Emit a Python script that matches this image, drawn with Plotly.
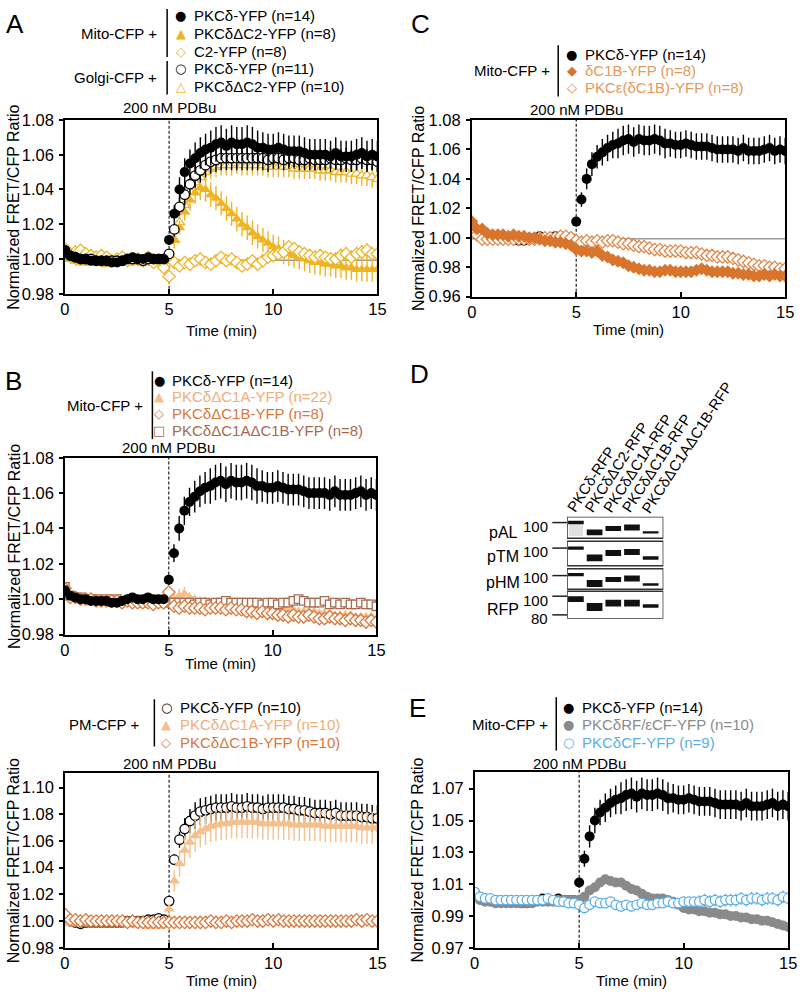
import math
import plotly.graph_objects as go

W, H = 805, 998
FONT = "Liberation Sans, Arial, sans-serif"
SYM = "DejaVu Sans, sans-serif"

# ---------------- data ----------------
t = [0, 0.25, 0.5, 0.75, 1, 1.25, 1.5, 1.75, 2, 2.25, 2.5, 2.75, 3, 3.25, 3.5, 3.75,
     4, 4.25, 4.5, 4.75, 5, 5.25, 5.5, 5.75, 6, 6.25, 6.5, 6.75, 7, 7.25, 7.5, 7.75,
     8, 8.25, 8.5, 8.75, 9, 9.25, 9.5, 9.75, 10, 10.25, 10.5, 10.75, 11, 11.25, 11.5,
     11.75, 12, 12.25, 12.5, 12.75, 13, 13.25, 13.5, 13.75, 14, 14.25, 14.5, 14.75, 15]

# Mito-CFP + PKCdelta-YFP (n=14)  (shared by A, B, C, E)
mito_pkcd = [1.005, 1.002, 1.001, 1.000, 1.000, 0.999, 0.999, 0.999, 0.999, 0.998,
             0.998, 0.999, 1.000, 1.001, 1.000, 1.000, 1.001, 1.000, 1.000, 1.000,
             1.011, 1.026, 1.040, 1.050, 1.055, 1.058, 1.061, 1.063, 1.064, 1.066,
             1.067, 1.065, 1.067, 1.066, 1.066, 1.067, 1.066, 1.064, 1.064, 1.063,
             1.063, 1.064, 1.063, 1.062, 1.062, 1.062, 1.061, 1.060, 1.060, 1.060,
             1.060, 1.059, 1.061, 1.059, 1.059, 1.059, 1.060, 1.061, 1.059, 1.060,
             1.059]
mito_pkcd_err = [0.001] * 20 + [0.003, 0.005, 0.007, 0.008, 0.008, 0.009, 0.009, 0.009, 0.010, 0.010,
                                0.010, 0.010, 0.010, 0.010, 0.010, 0.010, 0.010, 0.010, 0.009, 0.009,
                                0.009, 0.009, 0.009, 0.009, 0.009, 0.009, 0.009, 0.009, 0.009, 0.009,
                                0.009, 0.009, 0.009, 0.009, 0.009, 0.009, 0.009, 0.009, 0.009, 0.009,
                                0.009]

# Panel A
a_mito_dc2 = [1.002, 1.000, 0.999, 0.999, 0.998, 0.998, 0.998, 0.998, 0.998, 0.998,
              0.998, 0.999, 0.999, 0.999, 0.999, 0.999, 0.999, 0.999, 0.999, 1.000,
              1.001, 1.011, 1.018, 1.027, 1.034, 1.038, 1.041, 1.040, 1.037, 1.035,
              1.032, 1.029, 1.026, 1.023, 1.020, 1.018, 1.015, 1.013, 1.011, 1.009,
              1.007, 1.006, 1.004, 1.003, 1.002, 1.001, 1.000, 0.999, 0.998, 0.998,
              0.997, 0.997, 0.996, 0.996, 0.995, 0.995, 0.994, 0.994, 0.994, 0.994,
              0.994]
a_mito_dc2_err = [0.001] * 20 + [0.002, 0.003, 0.004, 0.005, 0.006, 0.006] + [0.007] * 35
a_c2 = [1.006, 1.002, 1.004, 1.005, 1.003, 1.002, 1.001, 1.002, 1.001, 0.999,
        1.000, 1.001, 0.999, 1.000, 1.000, 0.999, 1.001, 0.998, 0.999, 0.995,
        0.990, 0.998, 0.996, 0.998, 0.997, 0.999, 1.000, 0.998, 0.997, 0.999,
        1.001, 0.999, 1.000, 0.998, 0.996, 0.997, 0.999, 0.997, 0.999, 1.001,
        1.002, 1.003, 1.004, 1.007, 1.006, 1.004, 1.003, 1.002, 1.001, 1.002,
        1.001, 1.000, 1.000, 1.002, 1.003, 1.001, 1.003, 1.004, 1.005, 1.003,
        1.003]
a_c2_err = [0.002] * 48 + [0.003, 0.003, 0.003, 0.004, 0.004, 0.004, 0.004, 0.004, 0.004, 0.004, 0.004, 0.004, 0.004]
a_golgi_pkcd = [1.005, 1.002, 1.001, 1.000, 1.000, 1.000, 0.999, 0.999, 0.999, 0.999,
                0.999, 0.999, 1.000, 1.000, 1.000, 0.999, 1.000, 1.000, 1.000, 1.000,
                1.003, 1.017, 1.030, 1.037, 1.043, 1.048, 1.051, 1.054, 1.056, 1.057,
                1.058, 1.058, 1.058, 1.058, 1.058, 1.058, 1.058, 1.058, 1.058, 1.057,
                1.058, 1.058, 1.057, 1.058, 1.058, 1.057, 1.057, 1.058, 1.057, 1.057,
                1.057, 1.058, 1.057, 1.057, 1.058, 1.057, 1.057, 1.058, 1.057, 1.057,
                1.056]
a_golgi_pkcd_err = [0.001] * 20 + [0.002, 0.004, 0.005, 0.006, 0.006] + [0.007] * 15 + [0.006] * 21
a_golgi_dc2 = [1.002, 1.000, 0.999, 0.998, 0.998, 0.998, 0.998, 0.998, 0.997, 0.998,
               0.998, 0.998, 0.998, 0.998, 0.999, 0.998, 0.998, 0.998, 0.999, 0.999,
               1.001, 1.011, 1.021, 1.031, 1.039, 1.044, 1.047, 1.050, 1.052, 1.053,
               1.054, 1.054, 1.054, 1.055, 1.054, 1.054, 1.054, 1.054, 1.054, 1.053,
               1.053, 1.053, 1.053, 1.053, 1.052, 1.052, 1.052, 1.052, 1.052, 1.051,
               1.051, 1.051, 1.050, 1.050, 1.050, 1.049, 1.049, 1.048, 1.048, 1.047,
               1.046]
a_golgi_dc2_err = [0.001] * 20 + [0.003, 0.005] + [0.006] * 39

# Panel B (Mito-CFP)
b_dc1a = [1.006, 1.001, 1.000, 1.000, 1.000, 0.999, 1.000, 0.999, 0.999, 0.999,
          0.999, 0.999, 0.999, 0.998, 0.999, 0.998, 0.998, 0.998, 0.998, 0.998,
          0.999, 1.000, 1.002, 1.003, 1.001, 1.000, 0.999, 0.999, 0.998, 0.998,
          0.998, 0.998, 0.997, 0.997, 0.997, 0.996, 0.996, 0.996, 0.995, 0.995,
          0.995, 0.995, 0.994, 0.994, 0.994, 0.993, 0.993, 0.993, 0.993, 0.992,
          0.992, 0.992, 0.991, 0.991, 0.991, 0.991, 0.990, 0.990, 0.990, 0.990,
          0.989]
b_dc1a_err = [0.002] * 20 + [0.003, 0.004, 0.004, 0.004, 0.003] + [0.002] * 36
b_dc1b = [1.006, 1.001, 1.001, 1.000, 1.000, 1.000, 0.999, 0.999, 0.999, 0.999,
          0.999, 0.998, 0.999, 0.998, 0.998, 0.998, 0.998, 0.997, 0.998, 0.998,
          1.004, 0.996, 0.995, 0.996, 0.995, 0.995, 0.995, 0.994, 0.995, 0.995,
          0.995, 0.994, 0.995, 0.994, 0.994, 0.993, 0.993, 0.992, 0.993, 0.992,
          0.992, 0.991, 0.991, 0.990, 0.991, 0.990, 0.990, 0.991, 0.990, 0.989,
          0.989, 0.990, 0.989, 0.989, 0.988, 0.989, 0.988, 0.988, 0.987, 0.988,
          0.987]
b_dc1b_err = [0.001] * 61
b_dc1adc1b = [1.007, 1.002, 1.001, 1.001, 1.000, 1.000, 1.000, 0.999, 1.000, 0.999,
              1.000, 0.999, 0.999, 1.000, 0.999, 0.998, 0.998, 0.999, 0.999, 0.998,
              0.998, 0.998, 0.998, 0.998, 0.998, 0.997, 0.998, 0.998, 0.997, 0.998,
              0.998, 0.999, 0.998, 0.998, 0.998, 0.998, 0.998, 0.998, 0.997, 0.998,
              0.998, 0.997, 0.998, 0.998, 0.999, 1.000, 0.999, 0.998, 0.998, 0.998,
              0.999, 0.997, 0.998, 0.997, 0.998, 0.997, 0.997, 0.998, 0.997, 0.997,
              0.996]
b_dc1adc1b_err = [0.001] * 61

# Panel B lower (PM-CFP)
pm_pkcd = [1.002, 1.000, 0.999, 0.998, 0.999, 0.999, 0.999, 0.999, 0.999, 0.999,
           0.999, 0.999, 1.000, 1.000, 1.000, 1.000, 1.001, 1.001, 1.002, 1.001,
           1.015, 1.046, 1.061, 1.069, 1.075, 1.079, 1.082, 1.083, 1.084, 1.085,
           1.085, 1.085, 1.086, 1.085, 1.085, 1.086, 1.085, 1.085, 1.084, 1.085,
           1.085, 1.085, 1.085, 1.084, 1.084, 1.083, 1.083, 1.082, 1.081, 1.081,
           1.081, 1.080, 1.081, 1.079, 1.079, 1.079, 1.079, 1.078, 1.078, 1.077,
           1.077]
pm_pkcd_err = [0.001] * 20 + [0.003, 0.004, 0.006, 0.008, 0.009] + [0.010] * 36
pm_dc1a = [0.999, 0.998, 0.998, 0.998, 0.998, 0.998, 0.998, 0.998, 0.998, 0.998,
           0.998, 0.998, 0.997, 0.997, 0.997, 0.997, 0.996, 0.996, 0.996, 0.997,
           1.009, 1.030, 1.043, 1.053, 1.059, 1.064, 1.067, 1.069, 1.071, 1.072,
           1.073, 1.073, 1.074, 1.074, 1.074, 1.074, 1.074, 1.074, 1.073, 1.073,
           1.073, 1.073, 1.073, 1.073, 1.072, 1.072, 1.072, 1.072, 1.072, 1.072,
           1.071, 1.071, 1.071, 1.071, 1.071, 1.071, 1.071, 1.070, 1.070, 1.070,
           1.070]
pm_dc1a_err = [0.001] * 20 + [0.004, 0.008, 0.010, 0.011] + [0.012] * 37
pm_dc1b = [1.005, 1.001, 1.001, 1.000, 1.001, 1.000, 1.000, 1.000, 1.000, 1.000,
           1.000, 1.000, 0.999, 1.000, 0.999, 0.999, 0.999, 0.999, 0.999, 0.999,
           0.999, 0.999, 0.999, 0.999, 0.999, 0.999, 0.999, 0.999, 1.000, 0.999,
           0.999, 1.000, 0.999, 1.000, 1.000, 1.000, 1.001, 1.000, 1.000, 1.001,
           1.000, 1.001, 1.000, 1.000, 1.000, 1.000, 1.000, 1.000, 1.000, 1.000,
           1.000, 1.000, 1.000, 1.000, 1.000, 1.000, 1.001, 1.000, 1.001, 1.000,
           1.000]
pm_dc1b_err = [0.001] * 61

# Panel C
c_dc1b = [1.011, 1.006, 1.006, 1.003, 1.002, 1.002, 1.002, 1.001, 1.002, 1.001,
          1.001, 1.000, 1.000, 0.999, 0.998, 0.998, 0.997, 0.997, 0.996, 0.995,
          0.992, 0.991, 0.991, 0.990, 0.991, 0.988, 0.987, 0.985, 0.984, 0.983,
          0.981, 0.980, 0.979, 0.978, 0.978, 0.977, 0.977, 0.978, 0.978, 0.977,
          0.977, 0.977, 0.977, 0.978, 0.979, 0.978, 0.977, 0.977, 0.977, 0.977,
          0.976, 0.976, 0.975, 0.975, 0.974, 0.974, 0.975, 0.974, 0.975, 0.974,
          0.974]
c_dc1b_err = [0.0015] * 61
c_eps = [1.005, 1.002, 0.999, 0.999, 0.999, 0.999, 0.999, 0.999, 0.999, 0.999,
         0.999, 0.999, 0.999, 1.000, 1.000, 1.000, 1.000, 1.001, 1.001, 1.000,
         0.998, 0.997, 0.998, 0.997, 0.998, 0.997, 0.998, 0.998, 0.997, 0.996,
         0.996, 0.995, 0.994, 0.994, 0.993, 0.992, 0.992, 0.991, 0.991, 0.991,
         0.991, 0.990, 0.990, 0.990, 0.989, 0.988, 0.988, 0.987, 0.987, 0.987,
         0.986, 0.985, 0.984, 0.983, 0.982, 0.981, 0.981, 0.980, 0.980, 0.979,
         0.979]
c_eps_err = [0.001] * 61

# Panel E
e_rf = [1.003, 1.000, 0.999, 0.999, 0.998, 0.998, 0.998, 0.998, 0.998, 0.998,
        0.998, 0.998, 0.999, 0.999, 0.999, 0.999, 1.000, 1.000, 1.000, 1.000,
        1.000, 1.002, 1.006, 1.008, 1.011, 1.013, 1.012, 1.011, 1.011, 1.009,
        1.007, 1.006, 1.004, 1.002, 1.001, 1.001, 1.001, 1.000, 0.999, 0.997,
        0.995, 0.994, 0.994, 0.993, 0.993, 0.992, 0.992, 0.991, 0.991, 0.990,
        0.990, 0.989, 0.989, 0.988, 0.988, 0.987, 0.987, 0.986, 0.985, 0.984,
        0.983]
e_rf_err = [0.001] * 61
e_cf = [1.005, 1.002, 1.001, 1.001, 1.000, 1.000, 1.000, 1.000, 1.000, 1.000,
        1.000, 1.000, 1.000, 1.000, 1.001, 1.000, 0.999, 0.999, 0.998, 0.998,
        0.997, 0.995, 0.997, 0.999, 0.998, 0.998, 0.999, 0.997, 0.996, 0.997,
        0.996, 0.997, 0.998, 0.997, 0.997, 0.998, 0.998, 0.999, 0.998, 0.998,
        0.999, 0.999, 0.999, 0.999, 1.000, 0.999, 1.000, 0.999, 1.000, 1.000,
        1.000, 1.001, 1.000, 1.001, 1.001, 1.000, 1.001, 1.001, 1.000, 1.002,
        1.001]
e_cf_err = [0.001] * 20 + [0.002, 0.003, 0.003] + [0.003] * 20 + [0.004] * 18

x_ticks = [0, 5, 10, 15]

# Panel D (blot): lanes, band offsets (from top of first strip) and thickness
blot_lanes = ["PKCδ-RFP", "PKCδΔC2-RFP", "PKCδΔC1A-RFP", "PKCδΔC1B-RFP", "PKCδΔC1AΔC1B-RFP"]
blot_rows = ["pAL", "pTM", "pHM", "RFP"]
band_pos = {"pAL": [6, 16, 12, 11, 16], "pTM": [32, 42, 37, 36, 42],
            "pHM": [59, 68, 64, 63, 69], "RFP": [84, 92, 88, 88, 91]}
band_thick = {"pAL": [3.5, 6, 5, 6, 2.5], "pTM": [3.5, 7, 6, 6, 3.5],
              "pHM": [3.5, 7, 5, 6, 2.5], "RFP": [6, 8, 7, 7, 3.5]}

# ---------------- colours ----------------
BLACK = "#000000"
GOLD = "#EFB423"
PEACH = "#F3C08E"
PEACH_T = "#EDAE78"
ORANGE = "#D9773A"
BROWN = "#A86A4E"
C_ORANGE = "#D8752C"
C_OPEN = "#E0884A"
C_TEXT = "#E39A5C"
GREY = "#8A8A8A"
BLUE = "#5AAEE8"


def px(x):
    return x / W


def py(y):
    return 1 - y / H


fig = go.Figure()

panels = {
    "1": dict(x=(61, 379), y=(113, 290), r=(0.98, 1.08), t0=0.98, tt=327, ann=100, ytx=9),
    "2": dict(x=(61, 378), y=(457, 637), r=(0.98, 1.08), t0=0.98, tt=667, ann=447, ytx=9),
    "3": dict(x=(61, 379), y=(778, 956), r=(0.98, 1.111), t0=0.98, tt=989, ann=768, ytx=9),
    "4": dict(x=(475, 794), y=(113, 293), r=(0.96, 1.08), t0=0.96, tt=326, ann=102, ytx=421),
    "5": dict(x=(478, 797), y=(777, 956), r=(0.97, 1.0805), t0=0.97, tt=989, ann=768, ytx=420),
}

layout = dict(width=W, height=H, margin=dict(l=0, r=0, t=0, b=0),
              paper_bgcolor="white", plot_bgcolor="white", showlegend=False,
              font=dict(family=FONT, color="black", size=15))
annotations = []
shapes = []

for k, p in panels.items():
    xn = "xaxis" if k == "1" else "xaxis" + k
    yn = "yaxis" if k == "1" else "yaxis" + k
    xr = "x" if k == "1" else "x" + k
    yr = "y" if k == "1" else "y" + k
    layout[xn] = dict(domain=[px(p["x"][0]), px(p["x"][1])], range=[0, 15], anchor=yr,
                      showline=True, linecolor="black", linewidth=1.5, mirror=True,
                      ticks="inside", ticklen=5, tickwidth=1.5, tickcolor="black",
                      tickvals=x_ticks, showgrid=False, zeroline=False,
                      tickfont=dict(size=16.5, family=FONT), ticklabelstandoff=0)
    layout[yn] = dict(domain=[py(p["y"][1]), py(p["y"][0])], range=list(p["r"]), anchor=xr,
                      showline=True, linecolor="black", linewidth=1.5, mirror=True,
                      ticks="outside", ticklen=4, tickwidth=1.5, tickcolor="black",
                      tick0=p["t0"], dtick=0.02, tickformat=".2f", showgrid=False, zeroline=False,
                      tickfont=dict(size=16.5, family=FONT), ticklabelstandoff=2)
    shapes.append(dict(type="line", xref=xr, yref=yr + " domain", x0=5, x1=5, y0=0, y1=1,
                       line=dict(color="#222", width=1.2, dash="3px,2px"), layer="below"))
    annotations.append(dict(text="200 nM PDBu", xref=xr, yref="paper", x=5, y=py(p["ann"]),
                            showarrow=False, font=dict(size=15), xanchor="center", yanchor="middle"))
    annotations.append(dict(text="Time (min)", xref=xr, yref="paper", x=7.5, y=py(p["tt"]),
                            showarrow=False, font=dict(size=15), xanchor="center", yanchor="middle"))
    annotations.append(dict(text="Normalized FRET/CFP Ratio", xref="paper", yref="paper",
                            x=px(p["ytx"]), y=py((p["y"][0] + p["y"][1]) / 2), textangle=-90,
                            showarrow=False, font=dict(size=16), xanchor="center", yanchor="middle"))

for xr, yr in [("x", "y"), ("x4", "y4")]:
    shapes.append(dict(type="line", xref=xr, yref=yr, x0=0, x1=15, y0=0.9993, y1=0.9993,
                       line=dict(color="#9a9a9a", width=1.5), layer="below"))


def add_series(ax, y, err, symbol, color, fill, size=10, lw=1.3):
    xa = "x" if ax == "1" else "x" + ax
    ya = "y" if ax == "1" else "y" + ax
    fig.add_trace(go.Scatter(
        x=t, y=y, mode="markers", xaxis=xa, yaxis=ya, hoverinfo="skip",
        marker=dict(symbol=symbol, size=size, color=fill, line=dict(color=color, width=lw)),
        error_y=dict(type="data", array=err, color=color, thickness=1.4, width=0)))


# A
add_series("1", a_golgi_dc2, a_golgi_dc2_err, "triangle-up", GOLD, "white", 9.5)
add_series("1", a_mito_dc2, a_mito_dc2_err, "triangle-up", GOLD, GOLD, 10, 0)
add_series("1", a_c2, a_c2_err, "diamond", GOLD, "white", 9.5)
add_series("1", a_golgi_pkcd, a_golgi_pkcd_err, "circle", BLACK, "white", 9.5)
add_series("1", mito_pkcd, mito_pkcd_err, "circle", BLACK, BLACK, 10, 0)
# B
add_series("2", b_dc1a, b_dc1a_err, "triangle-up", PEACH, PEACH, 10, 0)
add_series("2", b_dc1adc1b, b_dc1adc1b_err, "square", BROWN, "white", 8.5)
add_series("2", b_dc1b, b_dc1b_err, "diamond", ORANGE, "white", 9.5)
add_series("2", mito_pkcd, mito_pkcd_err, "circle", BLACK, BLACK, 10, 0)
# B lower
add_series("3", pm_pkcd, pm_pkcd_err, "circle", BLACK, "white", 9.5)
add_series("3", pm_dc1a, pm_dc1a_err, "triangle-up", PEACH, PEACH, 10, 0)
add_series("3", pm_dc1b, pm_dc1b_err, "diamond", ORANGE, "white", 9.5)
# C
add_series("4", mito_pkcd, mito_pkcd_err, "circle", BLACK, BLACK, 10, 0)
add_series("4", c_eps, c_eps_err, "diamond", C_OPEN, "white", 9.5)
add_series("4", c_dc1b, c_dc1b_err, "diamond", C_ORANGE, C_ORANGE, 10, 0)
# E
add_series("5", mito_pkcd, mito_pkcd_err, "circle", BLACK, BLACK, 10, 0)
add_series("5", e_rf, e_rf_err, "circle", GREY, GREY, 10, 0)
add_series("5", e_cf, e_cf_err, "circle", BLUE, "white", 9.5)


# ---------------- legends ----------------
def legend_group(label, lx, ly, line_x, line_y0, line_y1, sym_x, txt_x, rows):
    annotations.append(dict(text=label, xref="paper", yref="paper", x=px(lx), y=py(ly),
                            xanchor="right", yanchor="middle", showarrow=False, font=dict(size=15)))
    shapes.append(dict(type="line", xref="paper", yref="paper", x0=px(line_x), x1=px(line_x),
                       y0=py(line_y0), y1=py(line_y1), line=dict(color="black", width=1.5)))
    for sym, scol, txt, tcol, ry in rows:
        annotations.append(dict(text=sym, xref="paper", yref="paper", x=px(sym_x), y=py(ry),
                                xanchor="center", yanchor="middle", showarrow=False,
                                font=dict(size=13, family=SYM, color=scol)))
        annotations.append(dict(text=txt, xref="paper", yref="paper", x=px(txt_x), y=py(ry),
                                xanchor="left", yanchor="middle", showarrow=False,
                                font=dict(size=15, color=tcol)))


legend_group("Mito-CFP +", 157, 25, 165, 0, 49, 179, 190, [
    ("●", BLACK, "PKCδ-YFP (n=14)", BLACK, 7),
    ("▲", GOLD, "PKCδΔC2-YFP (n=8)", BLACK, 25),
    ("◇", GOLD, "C2-YFP (n=8)", BLACK, 43)])
legend_group("Golgi-CFP +", 157, 70, 165, 53, 87, 179, 190, [
    ("○", BLACK, "PKCδ-YFP (n=11)", BLACK, 61),
    ("△", GOLD, "PKCδΔC2-YFP (n=10)", BLACK, 79)])
legend_group("Mito-CFP +", 142, 404, 150, 369, 438, 157, 168, [
    ("●", BLACK, "PKCδ-YFP (n=14)", BLACK, 378),
    ("▲", PEACH, "PKCδΔC1A-YFP (n=22)", PEACH_T, 395),
    ("◇", ORANGE, "PKCδΔC1B-YFP (n=8)", ORANGE, 412),
    ("□", BROWN, "PKCδΔC1AΔC1B-YFP (n=8)", BROWN, 429)])
legend_group("PM-CFP +", 138, 729, 152, 703, 751, 164, 176, [
    ("○", BLACK, "PKCδ-YFP (n=10)", BLACK, 711),
    ("▲", PEACH, "PKCδΔC1A-YFP (n=10)", PEACH_T, 729),
    ("◇", ORANGE, "PKCδΔC1B-YFP (n=10)", ORANGE, 747)])
legend_group("Mito-CFP +", 557, 63, 563, 37, 89, 577, 588, [
    ("●", BLACK, "PKCδ-YFP (n=14)", BLACK, 46),
    ("◆", C_ORANGE, "δC1B-YFP (n=8)", C_TEXT, 63),
    ("◇", C_OPEN, "PKCε(δC1B)-YFP (n=8)", C_TEXT, 80)])
legend_group("Mito-CFP +", 555, 729, 561, 701, 755, 573, 585, [
    ("●", BLACK, "PKCδ-YFP (n=14)", BLACK, 711),
    ("●", GREY, "PKCδRF/εCF-YFP (n=10)", GREY, 729),
    ("○", BLUE, "PKCδCF-YFP (n=9)", BLUE, 747)])

for letter, (lx, ly) in {"A": (10, 15), "B": (9, 379), "C": (423, 15), "D": (422, 372), "E": (420, 712)}.items():
    annotations.append(dict(text=letter, xref="paper", yref="paper", x=px(lx), y=py(ly),
                            xanchor="center", yanchor="middle", showarrow=False,
                            font=dict(size=26, color="black")))

# ---------------- panel D : blot ----------------
blot_x0, blot_x1, blot_top, blot_bot = 572, 670, 517, 621
layout["xaxis6"] = dict(domain=[px(blot_x0), px(blot_x1)], range=[0.526, 5.68], visible=False,
                        anchor="y6", fixedrange=True)
layout["yaxis6"] = dict(domain=[py(blot_bot), py(blot_top)], range=[blot_bot - blot_top, 0],
                        visible=False, anchor="x6", fixedrange=True)
strips = {"pAL": (0, 22), "pTM": (25, 50), "pHM": (53, 74), "RFP": (76, 104)}
for row, (s0, s1) in strips.items():
    shapes.append(dict(type="rect", xref="x6", yref="y6", x0=0.526, x1=5.68, y0=s0, y1=s1,
                       line=dict(color="#333", width=1.5), fillcolor="white", layer="below"))
    for i, (c, h) in enumerate(zip(band_pos[row], band_thick[row])):
        lane = i + 1
        shapes.append(dict(type="rect", xref="x6", yref="y6", x0=lane - 0.42, x1=lane + 0.42,
                           y0=c - h / 2, y1=c + h / 2, line=dict(width=0), fillcolor="#111"))
shapes.append(dict(type="rect", xref="x6", yref="y6", x0=0.62, x1=1.38, y0=8, y1=20,
                   line=dict(width=0), fillcolor="rgba(0,0,0,0.12)", layer="below"))

row_label_y = {"pAL": 533, "pTM": 558, "pHM": 584, "RFP": 612}
for row, yy in row_label_y.items():
    annotations.append(dict(text=row, xref="paper", yref="paper", x=px(507), y=py(yy),
                            xanchor="center", yanchor="middle", showarrow=False, font=dict(size=16)))
marker_lbl = [("100", 527, 523), ("100", 552, 549), ("100", 579, 577), ("100", 602, 598), ("80", 621, 617)]
for txt, ly, lny in marker_lbl:
    annotations.append(dict(text=txt, xref="paper", yref="paper", x=px(555), y=py(ly),
                            xanchor="right", yanchor="middle", showarrow=False, font=dict(size=15)))
    shapes.append(dict(type="line", xref="paper", yref="paper", x0=px(557), x1=px(572),
                       y0=py(lny), y1=py(lny), line=dict(color="#222", width=1.5)))

ang = 57
ca, sa = math.cos(math.radians(ang)), math.sin(math.radians(ang))
lbl_w = [74, 103, 113, 113, 153]
lbl_start = [580, 598, 617, 636, 656]
for name, w, sx in zip(blot_lanes, lbl_w, lbl_start):
    sy = 513
    cx = sx + w / 2 * ca - 5 * sa
    cy = sy - w / 2 * sa - 5 * ca
    annotations.append(dict(text=name, xref="paper", yref="paper", x=px(cx), y=py(cy),
                            xanchor="center", yanchor="middle", textangle=-ang, showarrow=False,
                            font=dict(size=15)))

layout["annotations"] = annotations
layout["shapes"] = shapes
fig.update_layout(**layout)
fig.write_html("out.html", config={"displayModeBar": False},
               post_script="document.body.style.margin='0px';document.body.style.overflow='hidden';")
